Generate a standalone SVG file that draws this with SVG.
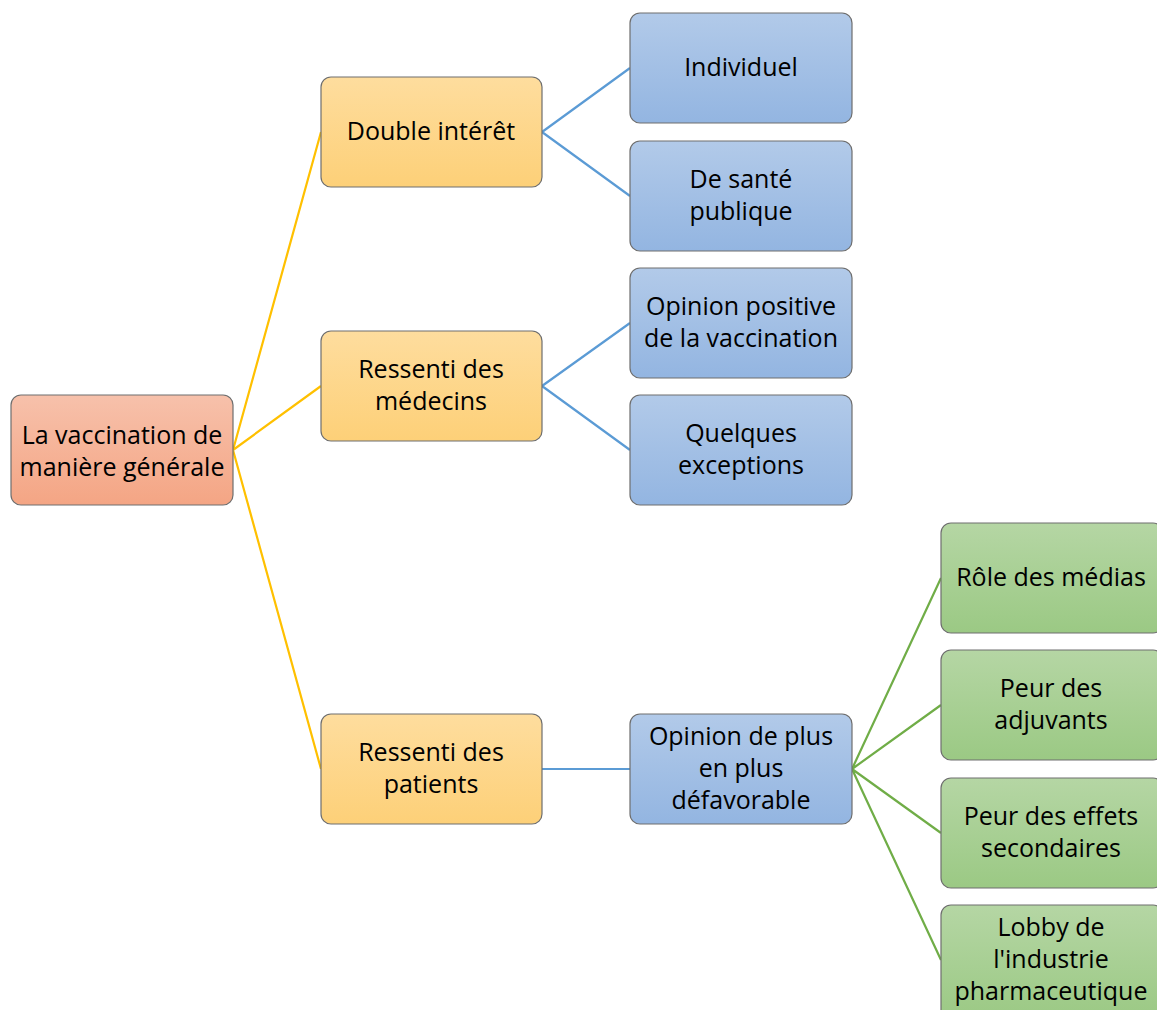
<svg xmlns="http://www.w3.org/2000/svg" width="1157" height="1010" viewBox="0 0 1157 1010">
<defs>
<linearGradient id="gRoot" x1="0" y1="0" x2="0" y2="1"><stop offset="0" stop-color="#F7C1AB"/><stop offset="1" stop-color="#F4A584"/></linearGradient>
<linearGradient id="gYel" x1="0" y1="0" x2="0" y2="1"><stop offset="0" stop-color="#FEDD9E"/><stop offset="1" stop-color="#FDD078"/></linearGradient>
<linearGradient id="gBlue" x1="0" y1="0" x2="0" y2="1"><stop offset="0" stop-color="#B2CAE9"/><stop offset="1" stop-color="#93B5E1"/></linearGradient>
<linearGradient id="gGreen" x1="0" y1="0" x2="0" y2="1"><stop offset="0" stop-color="#B5D6A4"/><stop offset="1" stop-color="#9BC984"/></linearGradient>
</defs>
<style>
.box{stroke:#6E6E6E;stroke-width:1.2}
.root{fill:url(#gRoot)}
.yel{fill:url(#gYel)}
.blue{fill:url(#gBlue)}
.green{fill:url(#gGreen)}
text{font-family:"Open Sans","Noto Sans",sans-serif;font-size:25px;fill:#000;text-anchor:middle}
.cy{stroke:#FFC000;stroke-width:2.2;fill:none}
.cb{stroke:#5B9BD5;stroke-width:2.2;fill:none}
.cg{stroke:#70AD47;stroke-width:2.2;fill:none}
</style>
<rect width="1157" height="1010" fill="#fff"/>
<g id="connectors">
<path class="cy" d="M233 450L321 132M233 450L321 386M233 450L321 769"/>
<path class="cb" d="M542 132L630 68M542 132L630 196M542 386L630 323M542 386L630 450M542 769L630 769"/>
<path class="cg" d="M852 769L941 578M852 769L941 705M852 769L941 833M852 769L941 960"/>
</g>
<g id="root"><rect class="box root" x="11" y="395" width="222" height="110" rx="10"/><text x="122" y="444">La vaccination de</text><text x="122" y="476">manière générale</text></g>
<g id="double"><rect class="box yel" x="321" y="77" width="221" height="110" rx="10"/><text x="431" y="140">Double intérêt</text></g>
<g id="medecins"><rect class="box yel" x="321" y="331" width="221" height="110" rx="10"/><text x="431" y="378">Ressenti des</text><text x="431" y="410">médecins</text></g>
<g id="patients"><rect class="box yel" x="321" y="714" width="221" height="110" rx="10"/><text x="431" y="761">Ressenti des</text><text x="431" y="793">patients</text></g>
<g id="individuel"><rect class="box blue" x="630" y="13" width="222" height="110" rx="10"/><text x="741" y="76">Individuel</text></g>
<g id="sante"><rect class="box blue" x="630" y="141" width="222" height="110" rx="10"/><text x="741" y="188">De santé</text><text x="741" y="220">publique</text></g>
<g id="positive"><rect class="box blue" x="630" y="268" width="222" height="110" rx="10"/><text x="741" y="315">Opinion positive</text><text x="741" y="347">de la vaccination</text></g>
<g id="exceptions"><rect class="box blue" x="630" y="395" width="222" height="110" rx="10"/><text x="741" y="442">Quelques</text><text x="741" y="474">exceptions</text></g>
<g id="defavorable"><rect class="box blue" x="630" y="714" width="222" height="110" rx="10"/><text x="741" y="745">Opinion de plus</text><text x="741" y="777">en plus</text><text x="741" y="809">défavorable</text></g>
<g id="medias"><rect class="box green" x="941" y="523" width="222" height="110" rx="10"/><text x="1051" y="586">Rôle des médias</text></g>
<g id="adjuvants"><rect class="box green" x="941" y="650" width="222" height="110" rx="10"/><text x="1051" y="697">Peur des</text><text x="1051" y="729">adjuvants</text></g>
<g id="effets"><rect class="box green" x="941" y="778" width="222" height="110" rx="10"/><text x="1051" y="825">Peur des effets</text><text x="1051" y="857">secondaires</text></g>
<g id="lobby"><rect class="box green" x="941" y="905" width="222" height="115" rx="10"/><text x="1051" y="936">Lobby de</text><text x="1051" y="968">l'industrie</text><text x="1051" y="1000">pharmaceutique</text></g>
</svg>
